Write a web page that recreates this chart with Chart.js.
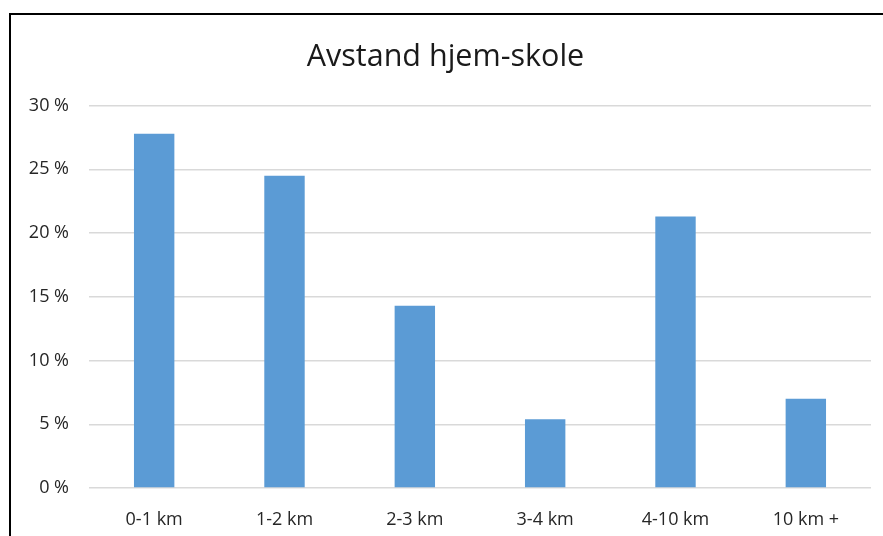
<!DOCTYPE html>
<html>
<head>
<meta charset="utf-8">
<script src="https://cdn.jsdelivr.net/npm/chart.js@4"></script>
<style>
  html, body { margin: 0; padding: 0; background: #fff; }
  #wrap { width: 883px; height: 536px; }
</style>
</head>
<body>
<div id="wrap"><canvas id="distChart" width="883" height="536"></canvas></div>
<script>
const categories = ["0-1 km", "1-2 km", "2-3 km", "3-4 km", "4-10 km", "10 km +"];
const shares = [27.8, 24.5, 14.3, 5.4, 21.3, 7.0];
const yTicks = [0, 5, 10, 15, 20, 25, 30];

// frame around the chart, like the spreadsheet chart box
const frame = {
  id: "frame",
  afterDraw(chart) {
    const ctx = chart.ctx;
    ctx.save();
    ctx.strokeStyle = "#000";
    ctx.lineWidth = 2;
    ctx.strokeRect(10, 14, 880, 600);
    ctx.restore();
  }
};

const ctx = document.getElementById("distChart");

new Chart(ctx, {
  type: "bar",
  data: {
    labels: categories,
    datasets: [
      {
        label: "Andel",
        data: shares,
        backgroundColor: "#5B9BD5",
        borderWidth: 0,
        barPercentage: 0.31,
        categoryPercentage: 1
      }
    ]
  },
  plugins: [frame],
  options: {
    responsive: false,
    animation: false,
    layout: { padding: { left: 20, right: 12, top: 39, bottom: 0 } },
    plugins: {
      legend: { display: false },
      tooltip: { enabled: false },
      title: {
        display: true,
        text: "Avstand hjem-skole",
        color: "#1a1a1a",
        font: { family: "Open Sans", size: 30.5, weight: "normal" },
        padding: { top: 0, bottom: 30 }
      }
    },
    scales: {
      x: {
        grid: { display: false },
        border: { display: false },
        ticks: {
          color: "#262626",
          font: { family: "Open Sans", size: 18 },
          padding: 13
        },
        afterFit(scale) { scale.height = 48; }
      },
      y: {
        min: 0,
        max: 30,
        afterBuildTicks(scale) {
          scale.ticks = yTicks.map(v => ({ value: v }));
        },
        grid: { color: "#d9d9d9", lineWidth: 1.5, drawTicks: false },
        border: { display: false },
        ticks: {
          color: "#262626",
          font: { family: "Open Sans", size: 18 },
          padding: 20,
          callback: v => v + " %"
        },
        afterFit(scale) { scale.width = 69; }
      }
    }
  }
});
</script>
</body>
</html>
